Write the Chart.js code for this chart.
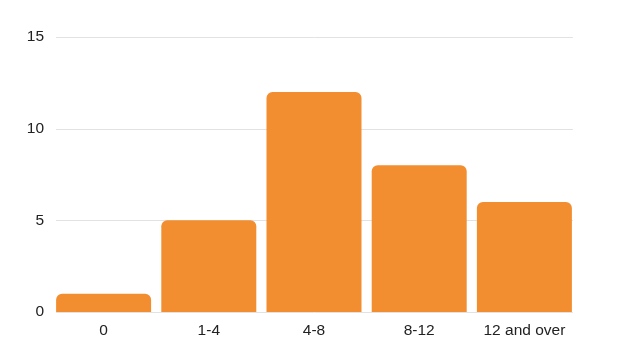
<!DOCTYPE html>
<html>
<head>
<meta charset="utf-8">
<script src="https://cdn.jsdelivr.net/npm/chart.js@4"></script>
<style>
html,body{margin:0;padding:0;background:#fff;}
#wrap{width:617px;height:360px;}
</style>
</head>
<body>
<div id="wrap"><canvas id="c" width="617" height="360"></canvas></div>
<script>
const categories = ["0", "1-4", "4-8", "8-12", "12 and over"];
const counts = [1, 5, 12, 8, 6];
const yTicks = [0, 5, 10, 15];

Chart.defaults.font.family = "'Liberation Sans', Arial, sans-serif";
Chart.defaults.font.size = 15.5;
Chart.defaults.color = "#222";

// Gridlines in the reference span only the bar range (no outer half-gaps),
// so draw them with the y scale's own tick pixels, clipped to that range.
const gridPlugin = {
  id: "innerGrid",
  beforeDatasetsDraw(chart) {
    const y = chart.scales.y, x = chart.scales.x, ctx = chart.ctx;
    const meta = chart.getDatasetMeta(0).data;
    const left = meta[0].x - meta[0].width / 2;
    const last = meta[meta.length - 1];
    const right = last.x + last.width / 2 + 1;
    ctx.save();
    ctx.strokeStyle = "#e2e2e2";
    ctx.lineWidth = 1;
    y.ticks.forEach(t => {
      const py = Math.round(y.getPixelForValue(t.value)) + 0.5;
      ctx.beginPath();
      ctx.moveTo(left, py);
      ctx.lineTo(right, py);
      ctx.stroke();
    });
    ctx.restore();
  }
};

new Chart(document.getElementById("c"), {
  type: "bar",
  data: {
    labels: categories,
    datasets: [{
      data: counts,
      backgroundColor: "#F28E2F",
      borderRadius: 6,
      borderSkipped: "bottom",
      barPercentage: 0.903,
      categoryPercentage: 1.0
    }]
  },
  options: {
    responsive: false,
    animation: false,
    devicePixelRatio: 1,
    layout: { padding: { left: 0, right: 40, top: 37, bottom: 0 } },
    plugins: { legend: { display: false }, tooltip: { enabled: false } },
    scales: {
      x: {
        grid: { display: false, drawTicks: false },
        border: { display: false },
        ticks: { padding: 9, color: "#222" },
        afterFit: s => { s.height = 48; }
      },
      y: {
        min: 0, max: 15,
        afterBuildTicks: s => { s.ticks = yTicks.map(v => ({ value: v })); },
        grid: { display: false, drawTicks: false },
        border: { display: false },
        ticks: { padding: 7, color: "#222" },
        afterFit: s => { s.width = 51; }
      }
    }
  },
  plugins: [gridPlugin]
});
</script>
</body>
</html>
